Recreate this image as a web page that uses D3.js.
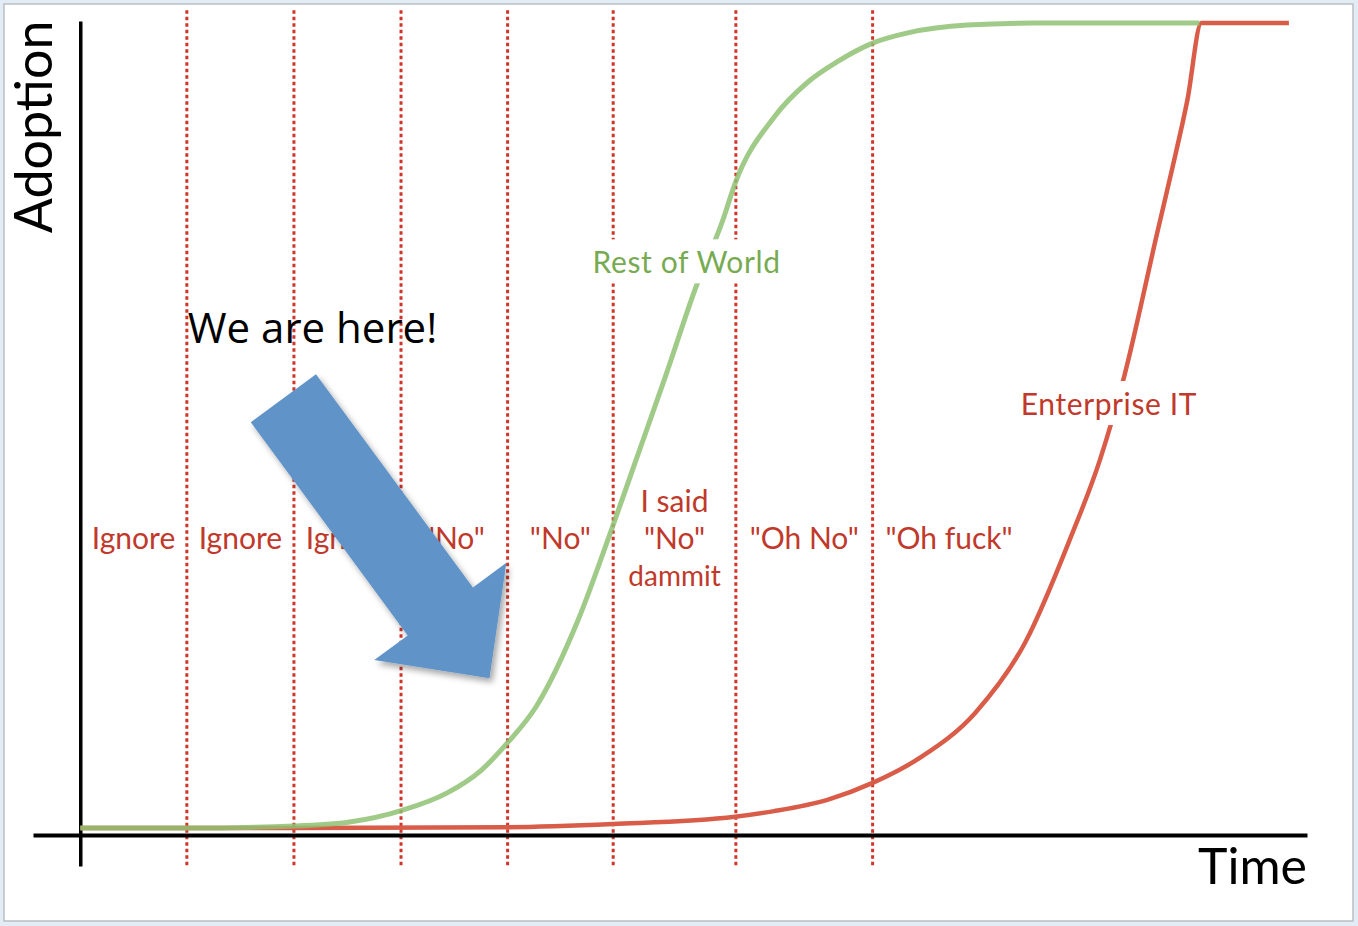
<!DOCTYPE html>
<html>
<head>
<meta charset="utf-8">
<script src="https://cdn.jsdelivr.net/npm/d3@7"></script>
<style>
  html, body { margin: 0; padding: 0; background: #e3ecf5; }
  svg { display: block; }
</style>
</head>
<body>
<div id="chart"></div>
<script>
// phase boundaries (time units) where the dotted lines sit
const phaseBounds = [10.6, 21.25, 31.9, 42.5, 53.0, 65.2, 78.8];
const phaseEnd = 94.0;
const phaseLabels = [
  ["Ignore"],
  ["Ignore"],
  ["Ignore"],
  ["\"No\""],
  ["\"No\""],
  ["I said", "\"No\"", "dammit"],
  ["\"Oh No\""],
  ["\"Oh fuck\""]
];

// adoption curves: [time, adoption %]
const restOfWorld = [
  [0, 0], [10.6, 0], [21.25, 0.25], [26.8, 0.75], [32.0, 2.2], [36.4, 4.3],
  [39.9, 7.2], [42.5, 10.6], [45.3, 15.0], [49.5, 25.8], [52.7, 36.6],
  [55.1, 45.1], [58.2, 56.1], [61.2, 67.1], [63.9, 75.5], [65.1, 80.0],
  [69.0, 88.3], [72.4, 92.7], [75.3, 95.2], [78.8, 97.5], [82.4, 98.8],
  [88.2, 99.75], [95.0, 100], [111.3, 100]
];
const enterpriseIT = [
  [0, 0], [21.25, 0], [42.5, 0.1], [53.0, 0.5], [65.1, 1.4], [69.0, 2.1],
  [74.3, 3.5], [78.8, 5.6], [83.6, 8.8], [89.0, 14.3], [94.0, 23.1],
  [98.5, 36.1], [101.4, 45.7], [103.8, 56.0], [107.1, 73.9], [108.5, 81.4],
  [110.1, 90.4], [111.5, 100], [120.2, 100]
];

// annotations (data coords)
const seriesLabels = [
  { text: "Rest of World", t: 60.3, v: 68.9, color: "#77ab52" },
  { text: "Enterprise IT", t: 102.3, v: 51.3, color: "#c0392b" }
];
const arrowFrom = [20.2, 53.4];
const arrowTo = [40.7, 18.6];
const hereLabel = { text: "We are here!", t: 10.7, v: 60.2 };

const W = 1358;
const H = 926;

const x = d3.scaleLinear().domain([-4.7, 122]).range([33, 1307]);
const y = d3.scaleLinear().domain([-4.72, 100.25]).range([866, 21]);

const svg = d3.select("#chart").append("svg")
  .attr("width", W)
  .attr("height", H);

// frame
svg.append("rect")
  .attr("x", 4).attr("y", 4)
  .attr("width", 1349).attr("height", 917)
  .attr("fill", "#fff")
  .attr("stroke", "#b9bec4")
  .attr("stroke-width", 1.5);

const defs = svg.append("defs");
defs.append("filter")
  .attr("id", "shadow")
  .attr("x", "-20%").attr("y", "-20%")
  .attr("width", "140%").attr("height", "140%")
  .append("feDropShadow")
  .attr("dx", 3).attr("dy", 4)
  .attr("stdDeviation", 3)
  .attr("flood-color", "#000")
  .attr("flood-opacity", 0.35);

// dotted phase lines
svg.selectAll(".phase")
  .data(phaseBounds)
  .enter()
  .append("line")
  .attr("class", "phase")
  .attr("x1", (d) => x(d))
  .attr("x2", (d) => x(d))
  .attr("y1", y(101.6))
  .attr("y2", y.range()[0])
  .attr("stroke", "#d0352a")
  .attr("stroke-width", 3)
  .attr("stroke-dasharray", "3.5,3");

// axes (no ticks)
svg.append("g")
  .attr("transform", "translate(0," + y(-0.87) + ")")
  .call(d3.axisBottom(x).tickValues([]).tickSizeOuter(0))
  .select(".domain")
  .attr("stroke", "#000")
  .attr("stroke-width", 4);
svg.append("g")
  .attr("transform", "translate(" + x(0) + ",0)")
  .call(d3.axisLeft(y).tickValues([]).tickSizeOuter(0))
  .select(".domain")
  .attr("stroke", "#000")
  .attr("stroke-width", 3.5);

// curves
const line = d3.line()
  .x((d) => x(d[0]))
  .y((d) => y(d[1]))
  .curve(d3.curveMonotoneX);

svg.append("path")
  .datum(enterpriseIT)
  .attr("d", line)
  .attr("fill", "none")
  .attr("stroke", "#d95c48")
  .attr("stroke-width", 4.5)
  .attr("stroke-linejoin", "round");

svg.append("path")
  .datum(restOfWorld)
  .attr("d", line)
  .attr("fill", "none")
  .attr("stroke", "#8fc172")
  .attr("stroke-opacity", 0.85)
  .attr("stroke-width", 5)
  .attr("stroke-linejoin", "round");

// series labels with a white gap behind them
seriesLabels.forEach((s) => {
  const g = svg.append("g");
  const bg = g.append("rect").attr("fill", "#fff");
  const t = g.append("text")
    .attr("x", x(s.t))
    .attr("y", y(s.v))
    .attr("text-anchor", "middle")
    .attr("font-family", "Lato, 'Open Sans', sans-serif")
    .attr("font-size", 30)
    .attr("letter-spacing", 0.6)
    .attr("fill", s.color)
    .text(s.text);
  const b = t.node().getBBox();
  bg.attr("x", b.x - 6).attr("y", b.y - 4)
    .attr("width", b.width + 12).attr("height", b.height + 8);
});

// phase labels
const edges = [0].concat(phaseBounds, [phaseEnd]);
phaseLabels.forEach((lines, i) => {
  const cx = x((edges[i] + edges[i + 1]) / 2);
  const t = svg.append("text")
    .attr("text-anchor", "middle")
    .attr("font-family", "Lato, 'Open Sans', sans-serif")
    .attr("fill", "#c0392b");
  const base = lines.length > 1 ? y(39.2) : y(34.6);
  lines.forEach((l, j) => {
    t.append("tspan")
      .attr("x", cx)
      .attr("y", base + j * 37)
      .attr("font-size", j === 2 ? 28 : 30)
      .text(l);
  });
});

// axis titles
svg.append("text")
  .attr("transform", "translate(52," + y(100.3) + ") rotate(-90)")
  .attr("text-anchor", "end")
  .attr("font-family", "Lato, 'Open Sans', sans-serif")
  .attr("font-size", 52)
  .attr("fill", "#000")
  .text("Adoption");

svg.append("text")
  .attr("x", x.range()[1])
  .attr("y", 884)
  .attr("text-anchor", "end")
  .attr("font-family", "Lato, 'Open Sans', sans-serif")
  .attr("font-size", 50)
  .attr("fill", "#000")
  .text("Time");

// the big blue arrow
const p0 = [x(arrowFrom[0]), y(arrowFrom[1])];
const p1 = [x(arrowTo[0]), y(arrowTo[1])];
const len = Math.hypot(p1[0] - p0[0], p1[1] - p0[1]);
const u = [(p1[0] - p0[0]) / len, (p1[1] - p0[1]) / len];
const n = [-u[1], u[0]];
const shaftHalf = 40.5;
const headHalf = 82;
const headLen = 83;
const hb = [p1[0] - u[0] * headLen, p1[1] - u[1] * headLen];
const pt = (c, k) => [c[0] + n[0] * k, c[1] + n[1] * k];
const arrowPts = [
  pt(p0, -shaftHalf), pt(hb, -shaftHalf), pt(hb, -headHalf), p1,
  pt(hb, headHalf), pt(hb, shaftHalf), pt(p0, shaftHalf)
];
svg.append("path")
  .attr("d", "M" + arrowPts.map((p) => p.join(",")).join("L") + "Z")
  .attr("fill", "#6194c8")
  .attr("filter", "url(#shadow)");

svg.append("text")
  .attr("x", x(hereLabel.t))
  .attr("y", y(hereLabel.v))
  .attr("font-family", "'Open Sans', 'Noto Sans', sans-serif")
  .attr("font-size", 42)
  .attr("fill", "#000")
  .text(hereLabel.text);
</script>
</body>
</html>
